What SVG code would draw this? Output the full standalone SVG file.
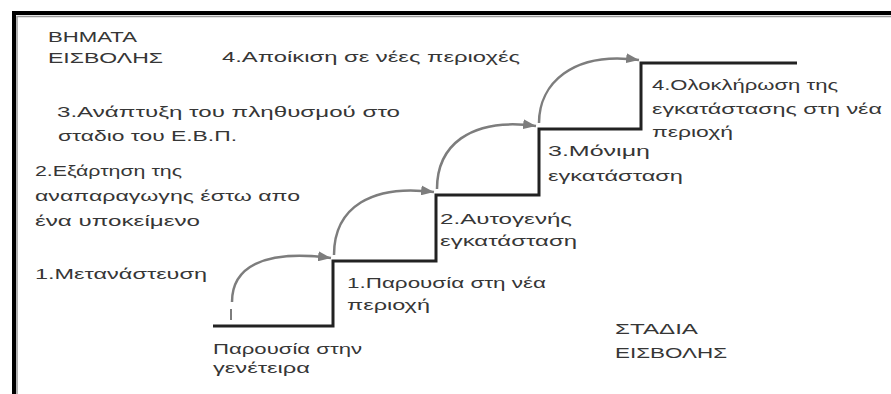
<svg xmlns="http://www.w3.org/2000/svg" width="891" height="394" viewBox="0 0 891 394">
  <style>
    text { font-family: "Liberation Sans", Arial, sans-serif; font-size: 14.5px; fill: #363636; }
    .frame { fill: none; stroke: #000; stroke-width: 4; }
    .frame-shade { fill: none; stroke: #9a9a9a; stroke-width: 1.5; }
    .stair { fill: none; stroke: #222; stroke-width: 3; stroke-linejoin: miter; }
    .hop { fill: none; stroke: #7d7d7d; stroke-width: 2.5; marker-end: url(#head); }
  </style>
  <defs>
    <marker id="head" markerUnits="userSpaceOnUse" markerWidth="14" markerHeight="10" refX="13" refY="5" orient="auto">
      <path d="M0,0 L13,5 L0,10 Z" fill="#7d7d7d"/>
    </marker>
  </defs>

  <rect width="891" height="394" fill="#fff"/>

  <!-- frame: top and left rule -->
  <path class="frame-shade" d="M17,394 L17,16.5 L891,16.5"/>
  <path class="frame" d="M14,394 L14,13 L891,13"/>

  <!-- staircase of invasion stages -->
  <g id="stairs">
    <path class="stair" d="M213,326 L333,326 L333,261 L436,261 L436,195 L539,195 L539,129 L641,129 L641,63 L797,63"/>
  </g>

  <!-- curved step arrows -->
  <g id="connectors">
    <line x1="231" y1="309" x2="231" y2="320" stroke="#7d7d7d" stroke-width="2"/>
    <path class="hop" d="M232,302 C232,268 262,249 331,258"/>
    <path class="hop" d="M334,255 C334,207 372,184 434,192"/>
    <path class="hop" d="M437,189 C437,147 468,117 536,126"/>
    <path class="hop" d="M539,123 C539,84 572,51 639,60"/>
  </g>

  <!-- left-hand labels: invasion steps -->
  <g id="steps-title">
    <text x="48" y="42" textLength="89" lengthAdjust="spacingAndGlyphs">ΒΗΜΑΤΑ</text>
    <text x="48" y="63" textLength="115" lengthAdjust="spacingAndGlyphs">ΕΙΣΒΟΛΗΣ</text>
  </g>
  <g id="step-4">
    <text x="222" y="62" textLength="298" lengthAdjust="spacingAndGlyphs">4.Αποίκιση σε νέες περιοχές</text>
  </g>
  <g id="step-3">
    <text x="57" y="117" textLength="343" lengthAdjust="spacingAndGlyphs">3.Ανάπτυξη του πληθυσμού στο</text>
    <text x="58" y="141" textLength="179" lengthAdjust="spacingAndGlyphs">σταδιο του Ε.Β.Π.</text>
  </g>
  <g id="step-2">
    <text x="35" y="176" textLength="147" lengthAdjust="spacingAndGlyphs">2.Εξάρτηση της</text>
    <text x="35" y="201" textLength="265" lengthAdjust="spacingAndGlyphs">αναπαραγωγης έστω απο</text>
    <text x="35" y="226" textLength="165" lengthAdjust="spacingAndGlyphs">ένα υποκείμενο</text>
  </g>
  <g id="step-1">
    <text x="35" y="279" textLength="172" lengthAdjust="spacingAndGlyphs">1.Μετανάστευση</text>
  </g>

  <!-- stage labels along the staircase -->
  <g id="stage-0">
    <text x="213" y="354" textLength="149" lengthAdjust="spacingAndGlyphs">Παρουσία στην</text>
    <text x="213" y="373" textLength="97" lengthAdjust="spacingAndGlyphs">γενέτειρα</text>
  </g>
  <g id="stage-1">
    <text x="347" y="288" textLength="199" lengthAdjust="spacingAndGlyphs">1.Παρουσία στη νέα</text>
    <text x="347" y="310" textLength="83" lengthAdjust="spacingAndGlyphs">περιοχή</text>
  </g>
  <g id="stage-2">
    <text x="440" y="224" textLength="132" lengthAdjust="spacingAndGlyphs">2.Αυτογενής</text>
    <text x="440" y="246" textLength="137" lengthAdjust="spacingAndGlyphs">εγκατάσταση</text>
  </g>
  <g id="stage-3">
    <text x="548" y="156" textLength="102" lengthAdjust="spacingAndGlyphs">3.Μόνιμη</text>
    <text x="548" y="181" textLength="135" lengthAdjust="spacingAndGlyphs">εγκατάσταση</text>
  </g>
  <g id="stage-4">
    <text x="652" y="90" textLength="186" lengthAdjust="spacingAndGlyphs">4.Ολοκλήρωση της</text>
    <text x="652" y="114" textLength="230" lengthAdjust="spacingAndGlyphs">εγκατάστασης στη νέα</text>
    <text x="652" y="137" textLength="81" lengthAdjust="spacingAndGlyphs">περιοχή</text>
  </g>
  <g id="stages-title">
    <text x="615" y="334" textLength="83" lengthAdjust="spacingAndGlyphs">ΣΤΑΔΙΑ</text>
    <text x="615" y="358" textLength="112" lengthAdjust="spacingAndGlyphs">ΕΙΣΒΟΛΗΣ</text>
  </g>
</svg>
